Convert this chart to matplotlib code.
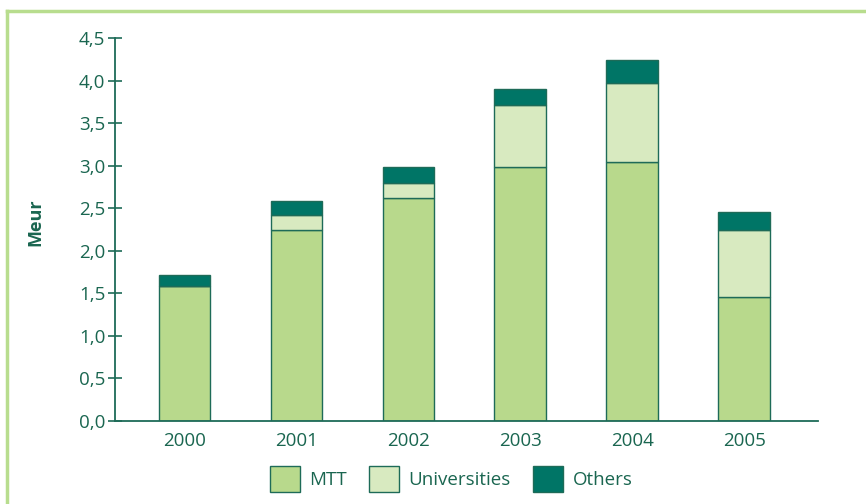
import matplotlib
matplotlib.use("Agg")
import matplotlib.pyplot as plt
import numpy as np
from matplotlib.patches import Rectangle
from matplotlib.lines import Line2D

years = ["2000", "2001", "2002", "2003", "2004", "2005"]
mtt = [1.59, 2.25, 2.62, 2.99, 3.04, 1.46]
universities = [0.0, 0.17, 0.18, 0.72, 0.93, 0.78]
others = [0.13, 0.17, 0.19, 0.19, 0.27, 0.21]
yticks = [0.0, 0.5, 1.0, 1.5, 2.0, 2.5, 3.0, 3.5, 4.0, 4.5]
ytick_labels = ["0,0", "0,5", "1,0", "1,5", "2,0", "2,5", "3,0", "3,5", "4,0", "4,5"]

c_mtt = "#B8D98C"
c_uni = "#D8EAC0"
c_oth = "#007566"
edge = "#1E6B58"
txt = "#1A6650"
frame_c = "#B8DD8E"

plt.rcParams['font.family'] = ['Open Sans', 'DejaVu Sans']

fig = plt.figure(figsize=(8.66, 5.04), dpi=100)
fig.patch.set_facecolor("white")

# outer frame (left and top visible)
fig.add_artist(Line2D([7/866, 7/866], [0, 1 - 11/504], transform=fig.transFigure, color=frame_c, lw=2.5))
fig.add_artist(Line2D([7/866, 1], [1 - 11/504, 1 - 11/504], transform=fig.transFigure, color=frame_c, lw=2.5))

ax = fig.add_axes([115/866, 1 - 421/504, (818 - 115)/866, (421 - 38)/504])
x = np.arange(len(years))
w = 0.46
b1 = np.array(mtt)
b2 = b1 + np.array(universities)
ax.bar(x, mtt, w, color=c_mtt, edgecolor=edge, linewidth=1.0, label="MTT")
ax.bar(x, universities, w, bottom=b1, color=c_uni, edgecolor=edge, linewidth=1.0, label="Universities")
ax.bar(x, others, w, bottom=b2, color=c_oth, edgecolor=edge, linewidth=1.0, label="Others")

ax.set_xlim(-0.62, 5.66)
ax.set_ylim(0, 4.5)
ax.set_yticks(yticks)
ax.set_yticklabels(ytick_labels)
ax.set_xticks(x)
ax.set_xticklabels(years)
for s in ["top", "right"]:
    ax.spines[s].set_visible(False)
for s in ["left", "bottom"]:
    ax.spines[s].set_color(edge)
    ax.spines[s].set_linewidth(1.3)
ax.tick_params(axis="y", direction="inout", length=10, width=1.2, color=edge, labelcolor=txt, labelsize=13.5, pad=2)
ax.tick_params(axis="x", length=0, labelcolor=txt, labelsize=13.5, pad=8)
ax.set_ylabel("Meur", fontsize=13, fontweight="bold", color=txt)
ax.yaxis.set_label_coords(-0.101, 0.52)
ax.set_facecolor("white")

handles = [Rectangle((0, 0), 1, 1, facecolor=c, edgecolor=edge, linewidth=1.0) for c in (c_mtt, c_uni, c_oth)]
fig.legend(handles, ["MTT", "Universities", "Others"], loc="center", bbox_to_anchor=(451/866, 1 - 479/504),
           ncol=3, frameon=False, handlelength=1.6, handleheight=1.7, handletextpad=0.5, columnspacing=1.2,
           fontsize=13.5, labelcolor=txt)

fig.savefig("out.png", dpi=100, facecolor="white")
